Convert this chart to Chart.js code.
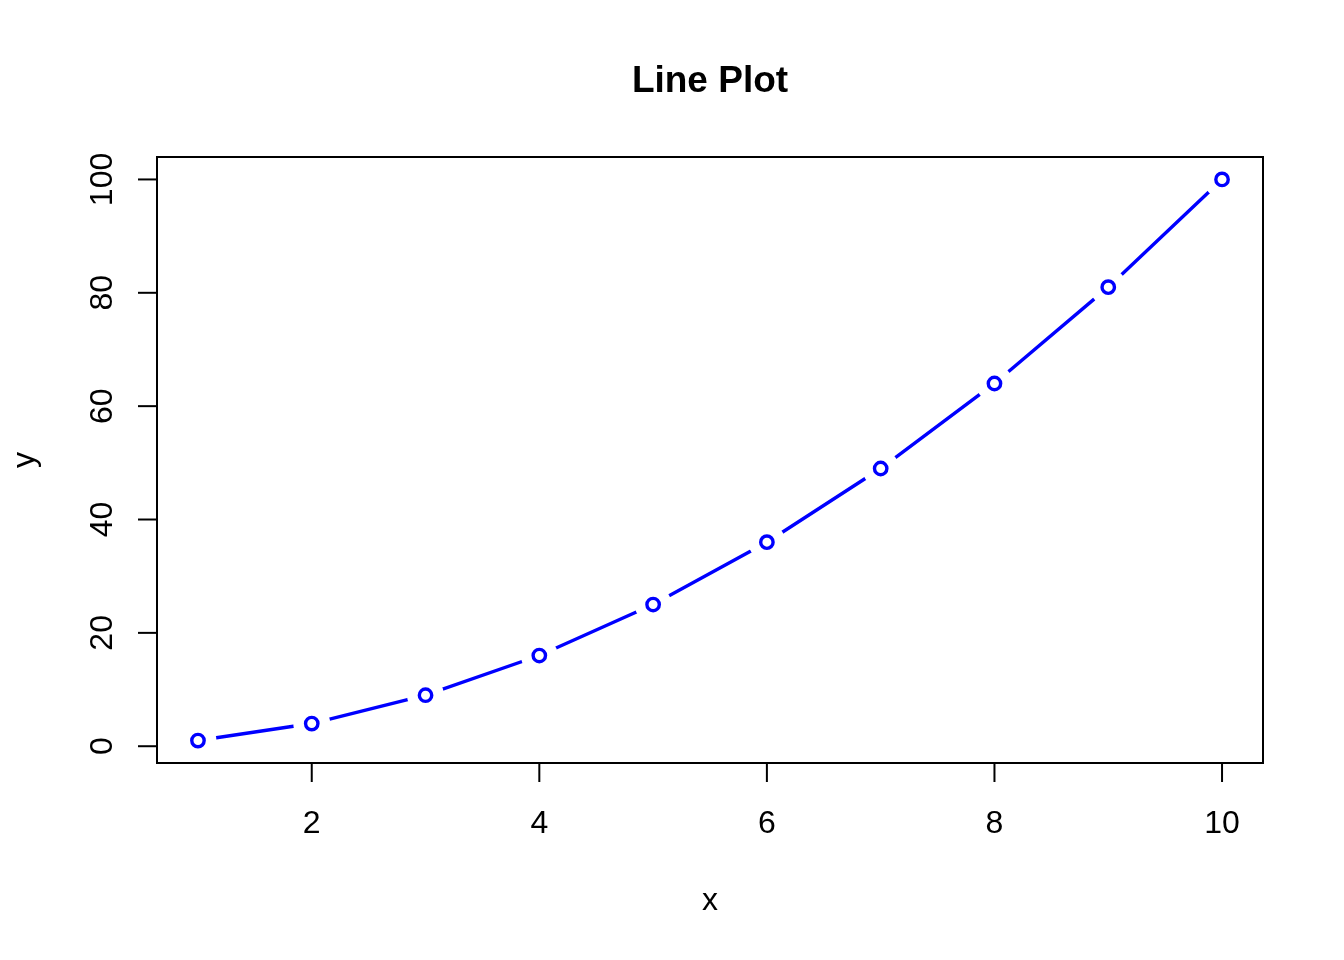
<!DOCTYPE html>
<html>
<head>
<meta charset="utf-8">
<script src="https://cdn.jsdelivr.net/npm/chart.js@4/dist/chart.umd.min.js"></script>
<style>
  html, body { margin: 0; padding: 0; background: #ffffff; }
  canvas { display: block; }
</style>
</head>
<body>
<canvas id="c" width="1344" height="960"></canvas>
<script>
const xValues = [1, 2, 3, 4, 5, 6, 7, 8, 9, 10];
const yValues = [1, 4, 9, 16, 25, 36, 49, 64, 81, 100];
const xTicks = [2, 4, 6, 8, 10];
const yTicks = [0, 20, 40, 60, 80, 100];
const titleText = "Line Plot";
const xLabel = "x";
const yLabel = "y";

const points = xValues.map((x, i) => ({ x: x, y: yValues[i] }));
const FONT = '"Liberation Sans", Arial, Helvetica, sans-serif';

const axesPlugin = {
  id: 'rAxes',
  afterDraw(chart) {
    const ctx = chart.ctx;
    const a = chart.chartArea;
    const xs = chart.scales.x, ys = chart.scales.y;
    ctx.save();
    ctx.strokeStyle = '#000';
    ctx.fillStyle = '#000';
    ctx.lineWidth = 2;
    ctx.lineCap = 'butt';
    ctx.strokeRect(a.left, a.top, a.right - a.left, a.bottom - a.top);
    // x ticks
    ctx.font = '32px ' + FONT;
    ctx.textAlign = 'center';
    ctx.textBaseline = 'alphabetic';
    xTicks.forEach(v => {
      const px = xs.getPixelForValue(v);
      ctx.beginPath();
      ctx.moveTo(px, a.bottom);
      ctx.lineTo(px, a.bottom + 19);
      ctx.stroke();
      ctx.fillText(String(v), px, a.bottom + 70);
    });
    // y ticks
    yTicks.forEach(v => {
      const py = ys.getPixelForValue(v);
      ctx.beginPath();
      ctx.moveTo(a.left, py);
      ctx.lineTo(a.left - 19, py);
      ctx.stroke();
      ctx.save();
      ctx.translate(a.left - 45, py);
      ctx.rotate(-Math.PI / 2);
      ctx.fillText(String(v), 0, 0);
      ctx.restore();
    });
    // axis labels
    const cx = (a.left + a.right) / 2;
    const cy = (a.top + a.bottom) / 2;
    ctx.fillText(xLabel, cx, a.bottom + 147);
    ctx.save();
    ctx.translate(34, cy);
    ctx.rotate(-Math.PI / 2);
    ctx.fillText(yLabel, 0, 0);
    ctx.restore();
    // title
    ctx.font = 'bold 37px ' + FONT;
    ctx.fillText(titleText, cx, 92);
    ctx.restore();
  }
};

new Chart(document.getElementById('c'), {
  type: 'scatter',
  data: {
    datasets: [
      {
        data: points,
        showLine: true,
        borderColor: '#0000ff',
        borderWidth: 3.4,
        pointRadius: 0,
        order: 3
      },
      {
        data: points,
        showLine: false,
        pointRadius: 18.5,
        pointBackgroundColor: '#ffffff',
        pointBorderWidth: 0,
        pointBorderColor: 'rgba(0,0,0,0)',
        order: 2
      },
      {
        data: points,
        showLine: false,
        pointRadius: 6.2,
        pointBackgroundColor: '#ffffff',
        pointBorderColor: '#0000ff',
        pointBorderWidth: 3.4,
        order: 1
      }
    ]
  },
  options: {
    responsive: false,
    animation: false,
    events: [],
    layout: { padding: { left: 157, right: 81, top: 157, bottom: 197 } },
    plugins: { legend: { display: false }, tooltip: { enabled: false }, title: { display: false } },
    scales: {
      x: { type: 'linear', min: 0.64, max: 10.36, display: false },
      y: { type: 'linear', min: -2.96, max: 103.96, display: false }
    }
  },
  plugins: [axesPlugin]
});
</script>
</body>
</html>
